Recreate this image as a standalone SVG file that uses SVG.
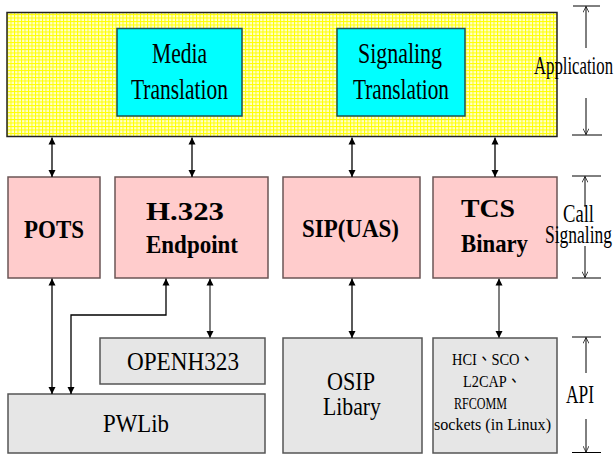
<svg xmlns="http://www.w3.org/2000/svg" width="615" height="454" viewBox="0 0 615 454">
<style>
text{font-family:"Liberation Serif","Times New Roman",serif;fill:#000}
.big{font-size:30px}
.lbl{font-size:25px}
.bold{font-size:26px;font-weight:bold}
.api{font-size:26px}
.small{font-size:17px;font-family:"Liberation Serif","Noto Sans CJK TC",serif}
.cyan{fill:#00ffff;stroke:#1f4f4f;stroke-width:1.5}
.pink{fill:#ffcccc;stroke:#6b5555;stroke-width:1.5}
.gray{fill:#e6e6e6;stroke:#555;stroke-width:1.5}
.conn{fill:none;stroke:#000;stroke-width:1.3;marker-start:url(#ah);marker-end:url(#ah)}
.conn2{fill:none;stroke:#555;stroke-width:1.5;marker-start:url(#ah);marker-end:url(#ah)}
.br{fill:none;stroke:#000;stroke-width:1}
.brl{fill:none;stroke:#000;stroke-width:1;marker-end:url(#oh)}
</style>
<defs>
<pattern id="grid" width="3.5" height="3.5" patternUnits="userSpaceOnUse">
<rect width="3.5" height="3.5" fill="#ffff00"/>
<rect x="1" y="1" width="2.5" height="2.5" fill="#ffffcc"/>
</pattern>
<marker id="ah" viewBox="0 0 10 10" refX="10" refY="5" markerWidth="7" markerHeight="8" markerUnits="userSpaceOnUse" orient="auto-start-reverse">
<path d="M0,0 L10,5 L0,10 z" fill="#000"/>
</marker>
<marker id="oh" viewBox="0 0 10 10" refX="10" refY="5" markerWidth="7" markerHeight="6" markerUnits="userSpaceOnUse" orient="auto">
<path d="M0,0 L10,5 L0,10" fill="none" stroke="#000" stroke-width="1.2"/>
</marker>
</defs>
<rect width="615" height="454" fill="#fff"/>

<g id="application">
<rect x="7" y="12.5" width="550" height="124" fill="url(#grid)" stroke="#222" stroke-width="1.5"/>
</g>
<g id="media-translation">
<rect class="cyan" x="117" y="28.5" width="125" height="87.5"/>
<text class="big" x="179.5" y="63" text-anchor="middle" textLength="55" lengthAdjust="spacingAndGlyphs">Media</text>
<text class="big" x="179.5" y="99" text-anchor="middle" textLength="97" lengthAdjust="spacingAndGlyphs">Translation</text>
</g>
<g id="signaling-translation">
<rect class="cyan" x="337" y="28.5" width="128" height="87.5"/>
<text class="big" x="400" y="63" text-anchor="middle" textLength="84" lengthAdjust="spacingAndGlyphs">Signaling</text>
<text class="big" x="401" y="99" text-anchor="middle" textLength="96" lengthAdjust="spacingAndGlyphs">Translation</text>
</g>

<g id="pots">
<rect class="pink" x="8" y="177" width="92" height="101"/>
<text class="bold" x="54" y="238" text-anchor="middle" textLength="60" lengthAdjust="spacingAndGlyphs">POTS</text>
</g>
<g id="h323-endpoint">
<rect class="pink" x="115" y="177" width="153" height="101"/>
<text class="bold" x="146" y="220" textLength="78" lengthAdjust="spacingAndGlyphs">H.323</text>
<text class="bold" x="146" y="253" textLength="92" lengthAdjust="spacingAndGlyphs">Endpoint</text>
</g>
<g id="sip-uas">
<rect class="pink" x="283" y="177" width="137" height="101"/>
<text class="bold" x="350.5" y="237" text-anchor="middle" textLength="97" lengthAdjust="spacingAndGlyphs">SIP(UAS)</text>
</g>
<g id="tcs-binary">
<rect class="pink" x="433" y="177" width="124" height="101"/>
<text class="bold" x="461" y="217" textLength="54" lengthAdjust="spacingAndGlyphs">TCS</text>
<text class="bold" x="461" y="252" textLength="67" lengthAdjust="spacingAndGlyphs">Binary</text>
</g>

<g id="openh323">
<rect class="gray" x="100" y="338" width="165" height="46"/>
<text class="api" x="127" y="370" textLength="112" lengthAdjust="spacingAndGlyphs">OPENH323</text>
</g>
<g id="pwlib">
<rect class="gray" x="8" y="394" width="257" height="59"/>
<text class="api" x="103" y="432" textLength="66" lengthAdjust="spacingAndGlyphs">PWLib</text>
</g>
<g id="osip-library">
<rect class="gray" x="283" y="338" width="139" height="115"/>
<text class="api" x="327" y="390" textLength="48" lengthAdjust="spacingAndGlyphs">OSIP</text>
<text class="api" x="323" y="415" textLength="58" lengthAdjust="spacingAndGlyphs">Libary</text>
</g>
<g id="bluetooth-sockets">
<rect class="gray" x="433" y="338" width="124" height="115"/>
<text class="small" x="452" y="365" textLength="82" lengthAdjust="spacingAndGlyphs">HCI、SCO、</text>
<text class="small" x="463" y="387" textLength="58" lengthAdjust="spacingAndGlyphs">L2CAP、</text>
<text class="small" x="454" y="409" textLength="53" lengthAdjust="spacingAndGlyphs">RFCOMM</text>
<text class="small" x="434" y="430" textLength="117" lengthAdjust="spacingAndGlyphs">sockets (in Linux)</text>
</g>

<g id="connectors">
<line class="conn" x1="52" y1="137.5" x2="52" y2="177"/>
<line class="conn" x1="192" y1="137.5" x2="192" y2="177"/>
<line class="conn" x1="352" y1="137.5" x2="352" y2="177"/>
<line class="conn" x1="495" y1="137.5" x2="495" y2="177"/>
<line class="conn" x1="52" y1="278.5" x2="52" y2="394"/>
<polyline class="conn" points="166,278.5 166,315 71,315 71,394"/>
<line class="conn2" x1="210" y1="278.5" x2="210" y2="338"/>
<line class="conn" x1="352" y1="278.5" x2="352" y2="338"/>
<line class="conn2" x1="499" y1="278.5" x2="499" y2="338"/>
</g>

<g id="layer-labels">
<line class="br" x1="573" y1="6" x2="600" y2="6"/>
<line class="brl" x1="586" y1="48" x2="586" y2="6.5"/>
<text class="lbl" x="534" y="74" textLength="79" lengthAdjust="spacingAndGlyphs">Application</text>
<line class="brl" x1="586" y1="98" x2="586" y2="134.5"/>
<line class="br" x1="572" y1="135" x2="602" y2="135"/>

<line class="br" x1="572" y1="176" x2="601" y2="176"/>
<line class="brl" x1="585" y1="207" x2="585" y2="176.5"/>
<text class="lbl" x="563" y="222" textLength="31" lengthAdjust="spacingAndGlyphs">Call</text>
<text class="lbl" x="545" y="243" textLength="67" lengthAdjust="spacingAndGlyphs">Signaling</text>
<line class="brl" x1="585" y1="246" x2="585" y2="277.5"/>
<line class="br" x1="572" y1="278" x2="601" y2="278"/>

<line class="br" x1="572" y1="337" x2="601" y2="337"/>
<line class="brl" x1="586" y1="373" x2="586" y2="337.5"/>
<text class="api" x="566" y="403" textLength="28" lengthAdjust="spacingAndGlyphs">API</text>
<line class="brl" x1="586" y1="419" x2="586" y2="452"/>
<line class="br" x1="572" y1="452.5" x2="601" y2="452.5"/>
</g>
</svg>
